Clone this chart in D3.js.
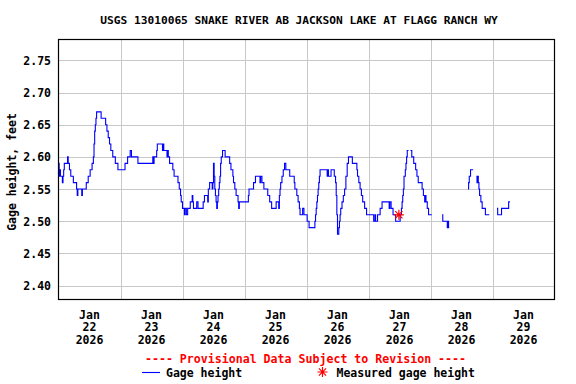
<!DOCTYPE html>
<html>
<head>
<meta charset="utf-8">
<script src="https://cdn.jsdelivr.net/npm/d3@7"></script>
<style>
  body { margin: 0; background: #fff; }
  svg text { font-family: "DejaVu Sans Mono", monospace; font-weight: bold; }
</style>
</head>
<body>
<svg id="chart" width="576" height="384"></svg>
<script>
// gage readings, hours since 2026-01-22 00:00 ; null = no data (gap)
var obsHours = [
  0, 0.25, 0.5, 0.75, 1.5, 1.75, 2, 2.25, 3.5, 3.75, 4.25, 4.75, 5.75, 7, 7.25, 7.5, 9, 9.25,
  10.75, 11.5, 12.25, 13, 13.5, 13.75, 14, 14.25, 14.5, 14.75, 16.5, 18.25, 18.75, 19.25, 19.75,
  20.25, 21, 22, 23, 25.75, 26.75, 27.75, 28.25, 30.75, 36.5, 36.75, 37, 38, 38.25, 40.25, 40.5,
  40.75, 42, 42.25, 42.5, 43, 44.25, 44.75, 46.25, 46.75, 47.25, 47.5, 48, 48.75, 49, 49.5, 50,
  51, 51.75, 52, 52.25, 53.5, 54, 56, 56.5, 57.75, 58, 58.5, 59.5, 59.75, 60, 60.25, 60.5, 60.75,
  61, 61.25, 61.5, 61.75, 62, 62.25, 62.5, 62.75, 63, 63.5, 64.5, 66.25, 66.75, 67.5, 67.75,
  68.25, 68.75, 69.5, 69.75, 70, 73.5, 73.75, 75.5, 76.25, 78, 78.25, 78.75, 79.5, 81, 81.75,
  82.5, 84.25, 85.25, 85.5, 85.75, 86, 86.5, 87, 87.5, 88, 89.5, 91.25, 91.5, 92.25, 92.75,
  93.25, 93.5, 94.5, 95, 96.25, 97, 99.25, 99.5, 99.75, 100, 100.25, 100.5, 100.75, 101, 101.25,
  104, 104.25, 104.5, 105.5, 106.75, 107.25, 107.5, 107.75, 108, 108.5, 108.75, 109, 109.25,
  109.75, 110.25, 110.75, 111.25, 111.75, 112.25, 113.75, 115.5, 115.75, 116.25, 116.75, 117.25,
  117.75, 118.5, 119.25, 122, 122.5, 122.75, 123.5, 124.5, 125.25, 128, 128.25, 128.75, 129.5,
  130.5, 132.25, 132.75, 133, 133.25, 133.5, 133.75, 134.25, 134.5, 134.75, 135, 135.5, 135.75,
  136.25, 136.75, 137.5, 138.25, 138.75, 139.25, 140.75, 141.25, 141.75, 142, 142.25, 142.75,
  143.25, 144.5, 145,
  148.5, 148.75, 150.5, 150.75, 151, 151.25, 151.5,
  158.5, 158.75, 159, 159.5, 160.5, 160.75,
  161.75, 162, 162.25, 162.5, 162.75, 163, 163.5, 164, 165.25, 166.75, 167,
  169.75, 170, 171.5, 174.25, 174.75
];
var gageFt = [
  2.59, 2.57, 2.58, 2.57, 2.56, 2.57, 2.58, 2.59, 2.60, 2.59, 2.58, 2.57, 2.56, 2.55, 2.54, 2.55, 2.54, 2.55,
  2.56, 2.57, 2.58, 2.59, 2.60, 2.62, 2.64, 2.65, 2.66, 2.67, 2.66, 2.65, 2.64, 2.63, 2.62,
  2.61, 2.60, 2.59, 2.58, 2.59, 2.60, 2.61, 2.60, 2.59, 2.60, 2.59, 2.60, 2.61, 2.62, 2.61, 2.62,
  2.61, 2.60, 2.61, 2.60, 2.59, 2.58, 2.57, 2.56, 2.55, 2.54, 2.53, 2.52, 2.51, 2.52, 2.51, 2.52,
  2.53, 2.54, 2.53, 2.52, 2.53, 2.52, 2.53, 2.54, 2.53, 2.55, 2.56, 2.55, 2.56, 2.59, 2.57, 2.55, 2.54,
  2.53, 2.52, 2.53, 2.54, 2.55, 2.56, 2.57, 2.59, 2.60, 2.61, 2.60, 2.59, 2.58, 2.57, 2.56,
  2.55, 2.54, 2.53, 2.52, 2.53, 2.54, 2.55, 2.56, 2.57, 2.56, 2.57, 2.56, 2.55, 2.54, 2.53,
  2.52, 2.53, 2.52, 2.54, 2.55, 2.56, 2.57, 2.58, 2.59, 2.58, 2.57, 2.56, 2.55, 2.54, 2.53,
  2.52, 2.51, 2.52, 2.51, 2.50, 2.49, 2.50, 2.51, 2.52, 2.53, 2.54, 2.55, 2.56, 2.57, 2.58,
  2.57, 2.58, 2.57, 2.58, 2.57, 2.56, 2.54, 2.51, 2.48, 2.49, 2.50, 2.51, 2.52,
  2.53, 2.54, 2.55, 2.57, 2.59, 2.60, 2.59, 2.58, 2.57, 2.56, 2.55, 2.54,
  2.53, 2.52, 2.51, 2.50, 2.51, 2.50, 2.51, 2.52, 2.53, 2.52, 2.53, 2.52, 2.51,
  2.50, 2.51, 2.52, 2.53, 2.54, 2.55, 2.57, 2.58, 2.59, 2.60, 2.61, 2.61, null,
  2.61, 2.60, 2.59, 2.58, 2.57, 2.56, 2.55, 2.54, 2.53, 2.54, 2.53, 2.52,
  2.51, 2.51, null,
  2.51, 2.50, 2.49, 2.50, 2.49, 2.49, null,
  2.55, 2.56, 2.57, 2.58, 2.58, null,
  2.57, 2.56, 2.57, 2.56, 2.55, 2.54, 2.53, 2.52, 2.51, 2.51, null,
  2.52, 2.51, 2.52, 2.53, 2.53
];
// field measurement
var measHours = [131.75];
var measFt = [2.51];

var yTicks = [2.40, 2.45, 2.50, 2.55, 2.60, 2.65, 2.70, 2.75];
var dayTicks = [22, 23, 24, 25, 26, 27, 28, 29];

var title = "USGS 13010065 SNAKE RIVER AB JACKSON LAKE AT FLAGG RANCH WY";

(function(d3) {
  var svg = d3.select('#chart');

  var left = 58.5, right = 554.5, top = 39.5, bottom = 299.5;
  var t0 = new Date(2026, 0, 22);
  var toDate = function(h) { return new Date(t0.getTime() + h * 3600e3); };

  var x = d3.scaleTime()
    .domain([t0, new Date(2026, 0, 30)])
    .range([left, right]);
  var y = d3.scaleLinear()
    .domain([2.3783, 2.7825])
    .range([bottom, top]);

  var data = obsHours.map(function(h, i) { return { t: toDate(h), v: gageFt[i] }; });

  // grid
  svg.append('g').selectAll('line.h')
    .data(yTicks).enter().append('line')
    .attr('x1', left).attr('x2', right)
    .attr('y1', function(d) { return Math.round(y(d)) + 0.5; })
    .attr('y2', function(d) { return Math.round(y(d)) + 0.5; })
    .attr('stroke', '#c8c8c8').attr('stroke-width', 1);

  svg.append('g').selectAll('line.v')
    .data(dayTicks.slice(1)).enter().append('line')
    .attr('x1', function(d) { return Math.round(x(new Date(2026, 0, d))) + 0.5; })
    .attr('x2', function(d) { return Math.round(x(new Date(2026, 0, d))) + 0.5; })
    .attr('y1', top).attr('y2', bottom)
    .attr('stroke', '#c8c8c8').attr('stroke-width', 1);

  // gage line
  var line = d3.line()
    .defined(function(d) { return d.v != null; })
    .x(function(d) { return x(d.t); })
    .y(function(d) { return y(d.v); })
    .curve(d3.curveStepAfter);

  svg.append('path')
    .datum(data)
    .attr('d', line)
    .attr('fill', 'none')
    .attr('stroke', '#0000ff')
    .attr('stroke-width', 1.1);

  // 8-arm asterisk
  var star = function(r) {
    var d = r * 0.72;
    return 'M' + (-r) + ',0L' + r + ',0M0,' + (-r) + 'L0,' + r +
      'M' + (-d) + ',' + (-d) + 'L' + d + ',' + d + 'M' + (-d) + ',' + d + 'L' + d + ',' + (-d);
  };

  svg.append('g').selectAll('path')
    .data(measHours).enter().append('path')
    .attr('transform', function(h, i) { return 'translate(' + x(toDate(h)) + ',' + y(measFt[i]) + ')'; })
    .attr('d', star(5))
    .attr('stroke', '#ff0000').attr('stroke-width', 1.2).attr('fill', 'none');

  // frame
  svg.append('rect')
    .attr('x', left).attr('y', top)
    .attr('width', right - left).attr('height', bottom - top)
    .attr('fill', 'none').attr('stroke', '#000').attr('stroke-width', 1.2);

  // y labels
  svg.append('g').selectAll('text')
    .data(yTicks).enter().append('text')
    .attr('x', 51).attr('y', function(d) { return y(d) + 4.5; })
    .attr('text-anchor', 'end')
    .attr('font-size', '11.5px')
    .text(function(d) { return d.toFixed(2); });

  svg.append('text')
    .attr('transform', 'translate(16,172) rotate(-90)')
    .attr('text-anchor', 'middle')
    .attr('font-size', '11.5px')
    .text('Gage height, feet');

  // x labels at noon
  var xl = svg.append('g').selectAll('g')
    .data(dayTicks).enter().append('g')
    .attr('transform', function(d) { return 'translate(' + x(new Date(2026, 0, d, 12)) + ',0)'; });
  xl.append('text').attr('y', 318.5).text('Jan');
  xl.append('text').attr('y', 331).text(function(d) { return d; });
  xl.append('text').attr('y', 343.5).text('2026');
  xl.selectAll('text').attr('text-anchor', 'middle').attr('font-size', '11.5px');

  // title
  svg.append('text')
    .attr('x', 299).attr('y', 24)
    .attr('text-anchor', 'middle')
    .attr('font-size', '11.2px')
    .text(title);

  svg.append('text')
    .attr('x', 305.5).attr('y', 363)
    .attr('text-anchor', 'middle')
    .attr('font-size', '11.6px')
    .attr('fill', '#ff0000')
    .text('---- Provisional Data Subject to Revision ----');

  // legend
  svg.append('line')
    .attr('x1', 142).attr('x2', 160).attr('y1', 372.5).attr('y2', 372.5)
    .attr('stroke', '#0000ff').attr('stroke-width', 1.1);
  svg.append('text')
    .attr('x', 166).attr('y', 376.5)
    .attr('font-size', '11.5px')
    .text('Gage height');
  svg.append('path')
    .attr('transform', 'translate(322.5,372)')
    .attr('d', star(5))
    .attr('stroke', '#ff0000').attr('stroke-width', 1.2).attr('fill', 'none');
  svg.append('text')
    .attr('x', 336.5).attr('y', 376.5)
    .attr('font-size', '11.5px')
    .text('Measured gage height');

})(d3);
</script>
</body>
</html>
